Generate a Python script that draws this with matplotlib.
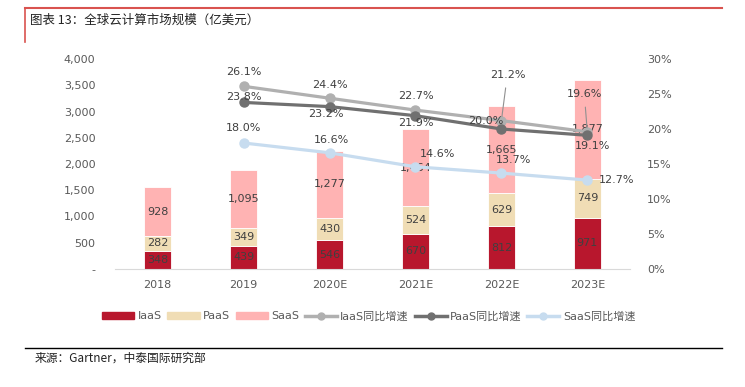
import matplotlib
matplotlib.use("Agg")
import matplotlib.pyplot as plt
from matplotlib.lines import Line2D
from matplotlib.ticker import FuncFormatter

plt.rcParams["font.family"] = ["DejaVu Sans", "Noto Sans CJK SC"]

years = ["2018", "2019", "2020E", "2021E", "2022E", "2023E"]
iaas = [348, 439, 546, 670, 812, 971]
paas = [282, 349, 430, 524, 629, 749]
saas = [928, 1095, 1277, 1464, 1665, 1877]

growth_years = [1, 2, 3, 4, 5]
iaas_g = [26.1, 24.4, 22.7, 21.2, 19.6]
paas_g = [23.8, 23.2, 21.9, 20.0, 19.1]
saas_g = [18.0, 16.6, 14.6, 13.7, 12.7]

c_iaas = "#B8172D"
c_paas = "#F0DDB5"
c_saas = "#FFB3B3"
c_ig = "#B0B0B0"
c_pg = "#707070"
c_sg = "#C7DCEF"
txt = "#404040"
tick_c = "#595959"

fig = plt.figure(figsize=(7.45, 3.87), dpi=100)
ax = fig.add_axes([0.154, 0.305, 0.692, 0.5425])
x = list(range(len(years)))
w = 0.31
bot2 = [a + b for a, b in zip(iaas, paas)]
ax.bar(x, iaas, w, color=c_iaas, edgecolor="white", linewidth=0.6, zorder=2)
ax.bar(x, paas, w, bottom=iaas, color=c_paas, edgecolor="white", linewidth=0.6, zorder=2)
ax.bar(x, saas, w, bottom=bot2, color=c_saas, edgecolor="white", linewidth=0.6, zorder=2)

for i in x:
    ax.text(i, iaas[i] / 2, f"{iaas[i]:,}", ha="center", va="center", fontsize=8, color=txt, zorder=5)
    ax.text(i, iaas[i] + paas[i] / 2, f"{paas[i]:,}", ha="center", va="center", fontsize=8, color=txt, zorder=5)
    ax.text(i, bot2[i] + saas[i] / 2, f"{saas[i]:,}", ha="center", va="center", fontsize=8, color=txt, zorder=5)

ax.set_xlim(-0.5, 5.5)
ax.set_ylim(0, 4000)
ax.set_yticks(range(0, 4001, 500))
ax.yaxis.set_major_formatter(FuncFormatter(lambda v, p: "-" if v == 0 else f"{int(v):,}"))
ax.set_xticks(x)
ax.set_xticklabels(years)
for s in ["top", "left", "right"]:
    ax.spines[s].set_visible(False)
ax.spines["bottom"].set_color("#D9D9D9")
ax.tick_params(axis="both", length=0, labelsize=8, colors=tick_c, pad=8)
ax.tick_params(axis="y", pad=14)

ax2 = ax.twinx()
ax2.set_ylim(0, 30)
ax2.set_yticks(range(0, 31, 5))
ax2.yaxis.set_major_formatter(FuncFormatter(lambda v, p: f"{int(v)}%"))
for s in ax2.spines.values():
    s.set_visible(False)
ax2.tick_params(axis="y", length=0, labelsize=8, colors=tick_c, pad=12)

ax2.plot(growth_years, iaas_g, color=c_ig, lw=2.3, marker="o", ms=6.5, zorder=3)
ax2.plot(growth_years, paas_g, color=c_pg, lw=2.3, marker="o", ms=6.5, zorder=3)
ax2.plot(growth_years, saas_g, color=c_sg, lw=2.3, marker="o", ms=6.5, zorder=3)

def lab(xv, yv, dx, dy, ha="center", arrow=False):
    kw = dict(textcoords="offset pixels", xytext=(dx, dy), ha=ha, va="center",
              fontsize=8, color=txt, zorder=6)
    if arrow:
        kw["arrowprops"] = dict(arrowstyle="-", color="#909090", lw=0.8, shrinkA=4, shrinkB=3)
    ax2.annotate(f"{yv:.1f}%", (xv, yv), **kw)

i_off = [(0, 14, False), (0, 13, False), (0, 14, False), (6, 46, True), (-3, 38, True)]
p_off = [(0, 5, False), (-4, -7, False), (0, -7, False), (-16, 8, False), (5, -11, False)]
s_off = [(0, 15, False), (2, 13, False), (22, 13, False), (12, 13, False), (12, 0, False)]
for k, xv in enumerate(growth_years):
    dx, dy, arr = i_off[k]
    lab(xv, iaas_g[k], dx, dy, arrow=arr)
    dx, dy, arr = p_off[k]
    lab(xv, paas_g[k], dx, dy, arrow=arr)
    dx, dy, arr = s_off[k]
    lab(xv, saas_g[k], dx, dy, ha="left" if k == 4 else "center", arrow=arr)

handles = [
    plt.Rectangle((0, 0), 1, 1, color=c_iaas),
    plt.Rectangle((0, 0), 1, 1, color=c_paas),
    plt.Rectangle((0, 0), 1, 1, color=c_saas),
    Line2D([], [], color=c_ig, lw=2.5, marker="o", ms=5),
    Line2D([], [], color=c_pg, lw=2.5, marker="o", ms=5),
    Line2D([], [], color=c_sg, lw=2.5, marker="o", ms=5),
]
names = ["IaaS", "PaaS", "SaaS", "IaaS同比增速", "PaaS同比增速", "SaaS同比增速"]
fig.legend(handles, names, loc="center", bbox_to_anchor=(0.495, 0.183), ncol=6, frameon=False,
           fontsize=8, handlelength=2.9, handleheight=0.6, columnspacing=0.5, handletextpad=0.3,
           labelcolor=tick_c)

# frame lines and titles
fig.add_artist(Line2D([25 / 745, 722 / 745], [1 - 8 / 387] * 2, color="#D9534F", lw=1.5))
fig.add_artist(Line2D([25 / 745] * 2, [1 - 8 / 387, 1 - 42 / 387], color="#D9534F", lw=1.2))
fig.add_artist(Line2D([25 / 745, 722 / 745], [1 - 348 / 387] * 2, color="black", lw=1.0))
fig.text(30 / 745, 1 - 20 / 387, "图表 13：全球云计算市场规模（亿美元）", fontsize=9, va="center",
         family=["Noto Sans CJK SC", "DejaVu Sans"], color="#222222")
fig.text(35 / 745, 1 - 358 / 387, "来源：Gartner，中泰国际研究部", fontsize=8.5, va="center",
         family=["Noto Sans CJK SC", "DejaVu Sans"], color="#222222")

fig.savefig("out.png", dpi=100)
